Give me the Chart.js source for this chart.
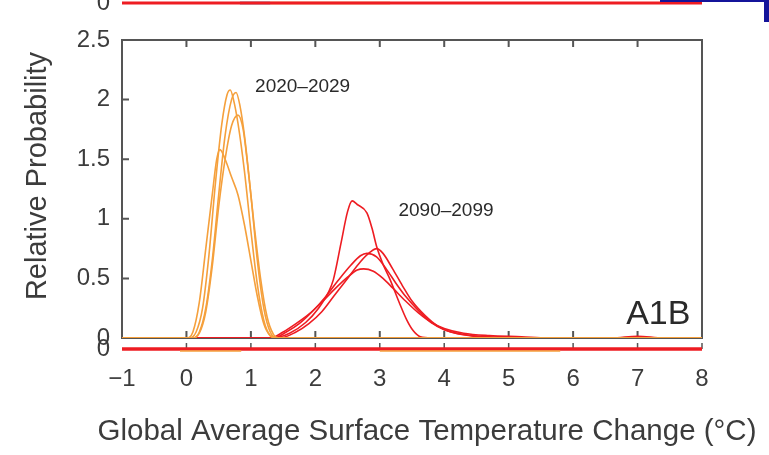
<!DOCTYPE html>
<html>
<head>
<meta charset="utf-8">
<script src="https://cdn.jsdelivr.net/npm/chart.js@4.4.1/dist/chart.umd.min.js"></script>
<style>
    body { margin: 0; background: #fff; }
    #wrap { position: relative; width: 769px; height: 455px; overflow: hidden; }
    #edgeTop { position: absolute; left: 660px; top: 0; width: 109px; height: 2px; background: #14149a; }
    #edgeRight { position: absolute; left: 764px; top: 0; width: 5px; height: 22px; background: #14149a; }
</style>
</head>
<body>
<div id="wrap">
    <canvas id="grafico" width="769" height="455"></canvas>
    <div id="edgeTop"></div>
    <div id="edgeRight"></div>
</div>
<script>
// probability curves, [temperature change, relative probability]
const early1 = [[-1,0],[0.05,0],[0.15,0.05],[0.25,0.25],[0.35,0.7],[0.45,1.3],[0.55,1.8],[0.63,2.04],[0.68,2.08],[0.73,2.0],[0.8,1.8],[0.9,1.4],[1.0,0.9],[1.1,0.45],[1.2,0.15],[1.3,0.02],[1.4,0],[8,0]];
const early2 = [[-1,0],[0.1,0],[0.2,0.05],[0.3,0.25],[0.4,0.65],[0.5,1.2],[0.6,1.7],[0.7,2.0],[0.77,2.06],[0.83,1.95],[0.9,1.7],[1.0,1.2],[1.1,0.65],[1.2,0.25],[1.3,0.05],[1.4,0],[8,0]];
const early3 = [[-1,0],[0.1,0],[0.2,0.04],[0.3,0.22],[0.4,0.6],[0.5,1.1],[0.6,1.5],[0.7,1.78],[0.8,1.87],[0.88,1.75],[0.95,1.45],[1.05,0.95],[1.15,0.5],[1.25,0.18],[1.35,0.03],[1.45,0],[8,0]];
const early4 = [[-1,0],[0.0,0],[0.1,0.05],[0.2,0.3],[0.3,0.75],[0.4,1.2],[0.47,1.5],[0.52,1.58],[0.6,1.5],[0.7,1.35],[0.8,1.2],[0.9,0.95],[1.0,0.65],[1.1,0.35],[1.2,0.12],[1.3,0.02],[1.4,0],[8,0]];

const late1 = [[-1,0],[1.35,0],[1.6,0.04],[1.85,0.13],[2.05,0.25],[2.2,0.38],[2.28,0.49],[2.4,0.8],[2.5,1.06],[2.57,1.15],[2.65,1.12],[2.8,1.05],[2.88,0.92],[2.95,0.77],[3.05,0.62],[3.16,0.49],[3.3,0.3],[3.42,0.15],[3.52,0.06],[3.63,0.01],[3.8,0],[8,0]];
const late2 = [[-1,0],[1.45,0],[1.7,0.05],[1.9,0.12],[2.1,0.22],[2.3,0.36],[2.5,0.5],[2.7,0.64],[2.85,0.72],[2.95,0.75],[3.05,0.71],[3.2,0.58],[3.35,0.44],[3.5,0.31],[3.7,0.19],[3.9,0.1],[4.1,0.05],[4.4,0.02],[4.8,0],[8,0]];
const late3 = [[-1,0],[1.35,0],[1.55,0.05],[1.75,0.12],[1.95,0.22],[2.15,0.34],[2.35,0.48],[2.55,0.61],[2.7,0.69],[2.8,0.71],[2.95,0.68],[3.1,0.58],[3.25,0.46],[3.4,0.35],[3.6,0.23],[3.8,0.13],[4.0,0.07],[4.3,0.03],[4.7,0.01],[5.2,0],[8,0]];
const late4 = [[-1,0],[1.3,0],[1.5,0.05],[1.7,0.12],[1.9,0.2],[2.1,0.3],[2.3,0.41],[2.5,0.51],[2.65,0.57],[2.75,0.58],[2.9,0.56],[3.05,0.5],[3.2,0.42],[3.4,0.31],[3.6,0.21],[3.8,0.13],[4.0,0.08],[4.3,0.04],[4.7,0.02],[5.2,0.01],[5.6,0],[6.6,0],[7.0,0.015],[7.4,0],[8,0]];

// edges of the neighbouring panels (cut off in the picture)
const stripTopRed = [[-1,0],[8,0]];
const stripTopBlue = [[0.83,0],[1.3,0]];
const stripTopTan = [[1.3,0],[3.16,0]];
const stripBotRed = [[-1,0],[8,0]];
const stripBotOrange = [[-0.1,-2],[0.85,-2],[0.86,null],[3.0,-2],[5.8,-2]];

const periodLabels = ["2020–2029", "2090–2099"];
const scenarioLabel = "A1B";
const xTicks = [-1, 0, 1, 2, 3, 4, 5, 6, 7, 8];
const yTicks = [0, 0.5, 1, 1.5, 2, 2.5];
const xTitle = "Global Average Surface Temperature Change (°C)";
const yTitle = "Relative Probability";

const LARANJA = '#f5a03c';
const VERMELHO = '#ee1c22';
const CINZA = '#555555';
const FONTE = '"Liberation Sans", Arial, sans-serif';

window.onload = function () {
    Chart.defaults.font.family = FONTE;
    Chart.defaults.color = '#3c3c3c';
    gerarGrafico();
};

function pontos(lista) {
    return lista.map(p => ({x: p[0], y: p[1]}));
}

function curva(lista, cor) {
    return {
        data: pontos(lista),
        borderColor: cor,
        borderWidth: 1.6,
        pointRadius: 0,
        fill: false,
        cubicInterpolationMode: 'monotone',
        yAxisID: 'y'
    };
}

function faixa(lista, cor, eixo, largura) {
    return {
        data: pontos(lista),
        borderColor: cor,
        borderWidth: largura,
        pointRadius: 0,
        fill: false,
        spanGaps: false,
        yAxisID: eixo
    };
}

// frame of the main panel with inward ticks, plus the text labels
const moldura = {
    id: 'moldura',
    beforeDatasetsDraw(chart) {
        let ctx = chart.ctx;
        let x = chart.scales.x, y = chart.scales.y, yb = chart.scales.yBot;
        ctx.save();
        ctx.strokeStyle = CINZA;
        ctx.lineWidth = 2;
        ctx.strokeRect(x.left, y.top, x.right - x.left, y.bottom - y.top);
        ctx.beginPath();
        for (let v of xTicks.slice(1, -1)) {
            let px = x.getPixelForValue(v);
            ctx.moveTo(px, y.top); ctx.lineTo(px, y.top + 7);
            ctx.moveTo(px, y.bottom); ctx.lineTo(px, y.bottom - 7);
        }
        for (let v of yTicks.slice(1, -1)) {
            let py = y.getPixelForValue(v);
            ctx.moveTo(x.left, py); ctx.lineTo(x.left + 7, py);
        }
        ctx.stroke();
        ctx.lineWidth = 1.5;
        ctx.beginPath();
        let sb = yb.getPixelForValue(0);
        for (let v of xTicks.slice(1)) {
            let px = x.getPixelForValue(v);
            ctx.moveTo(px, sb); ctx.lineTo(px, sb - 6);
        }
        ctx.stroke();
        ctx.restore();
    },
    afterDatasetsDraw(chart) {
        let ctx = chart.ctx;
        let x = chart.scales.x, y = chart.scales.y;
        ctx.save();
        ctx.fillStyle = '#2a2a2a';
        ctx.textBaseline = 'middle';
        ctx.textAlign = 'left';
        ctx.font = '19px ' + FONTE;
        ctx.fillText(periodLabels[0], x.getPixelForValue(1.065), y.getPixelForValue(2.11));
        ctx.fillText(periodLabels[1], x.getPixelForValue(3.29), y.getPixelForValue(1.065));
        ctx.textAlign = 'right';
        ctx.font = '34px ' + FONTE;
        ctx.fillText(scenarioLabel, x.getPixelForValue(7.82), y.getPixelForValue(0.2));
        // axis titles run past the plot area, so they are drawn here rather than squeezed
        ctx.textAlign = 'center';
        ctx.fillStyle = '#3c3c3c';
        ctx.font = '29.5px ' + FONTE;
        ctx.fillText(xTitle, 427, x.bottom - 23);
        ctx.font = '29px ' + FONTE;
        ctx.translate(38, 176);
        ctx.rotate(-Math.PI / 2);
        ctx.fillText(yTitle, 0, 0);
        ctx.restore();
    }
};

function semPadding(scale) {
    scale.width = 122;
    scale.paddingTop = 0;
    scale.paddingBottom = 0;
}

function gerarGrafico() {
    let graficoElement = document.getElementById("grafico").getContext('2d');
    let fonteTicks = {size: 24};
    let grafico = new Chart(graficoElement, {
        type: 'line',
        data: {
            datasets: [
                curva(early1, LARANJA),
                curva(early2, LARANJA),
                curva(early3, LARANJA),
                curva(early4, LARANJA),
                curva(late1, VERMELHO),
                curva(late2, VERMELHO),
                curva(late3, VERMELHO),
                curva(late4, VERMELHO),
                faixa(stripTopRed, VERMELHO, 'yTop', 3),
                faixa(stripTopBlue, '#6f84a6', 'yTop', 3),
                faixa(stripTopTan, '#efc68a', 'yTop', 3),
                faixa(stripBotOrange, LARANJA, 'yBot', 1.5),
                faixa(stripBotRed, VERMELHO, 'yBot', 3.5)
            ]
        },
        options: {
            responsive: false,
            animation: false,
            devicePixelRatio: 1,
            layout: {padding: {left: 0, right: 67, top: 0, bottom: 0}},
            plugins: {
                legend: {display: false},
                tooltip: {enabled: false}
            },
            scales: {
                x: {
                    type: 'linear',
                    min: -1,
                    max: 8,
                    grid: {display: false, drawTicks: false},
                    border: {display: false},
                    afterBuildTicks: s => { s.ticks = xTicks.map(v => ({value: v})); },
                    afterFit: s => { s.height = 99; },
                    ticks: {
                        font: fonteTicks,
                        padding: 9,
                        callback: v => v < 0 ? '−' + Math.abs(v) : String(v)
                    }
                },
                yBot: {
                    type: 'linear',
                    position: 'left',
                    stack: 'painel',
                    stackWeight: 18,
                    min: -7,
                    max: 11,
                    grid: {display: false, drawTicks: false},
                    border: {display: false},
                    afterBuildTicks: s => { s.ticks = [{value: 0}]; },
                    afterFit: semPadding,
                    ticks: {font: fonteTicks, padding: 12}
                },
                y: {
                    type: 'linear',
                    position: 'left',
                    stack: 'painel',
                    stackWeight: 298,
                    min: 0,
                    max: 2.5,
                    grid: {display: false, drawTicks: false},
                    border: {display: false},
                    afterBuildTicks: s => { s.ticks = yTicks.map(v => ({value: v})); },
                    afterFit: semPadding,
                    ticks: {font: fonteTicks, padding: 12, callback: v => String(v)}
                },
                yTop: {
                    type: 'linear',
                    position: 'left',
                    stack: 'painel',
                    stackWeight: 40,
                    min: -37,
                    max: 3,
                    grid: {display: false, drawTicks: false},
                    border: {display: false},
                    afterBuildTicks: s => { s.ticks = [{value: 0}]; },
                    afterFit: semPadding,
                    ticks: {font: fonteTicks, padding: 12}
                }
            }
        },
        plugins: [moldura]
    });
}
</script>
</body>
</html>
